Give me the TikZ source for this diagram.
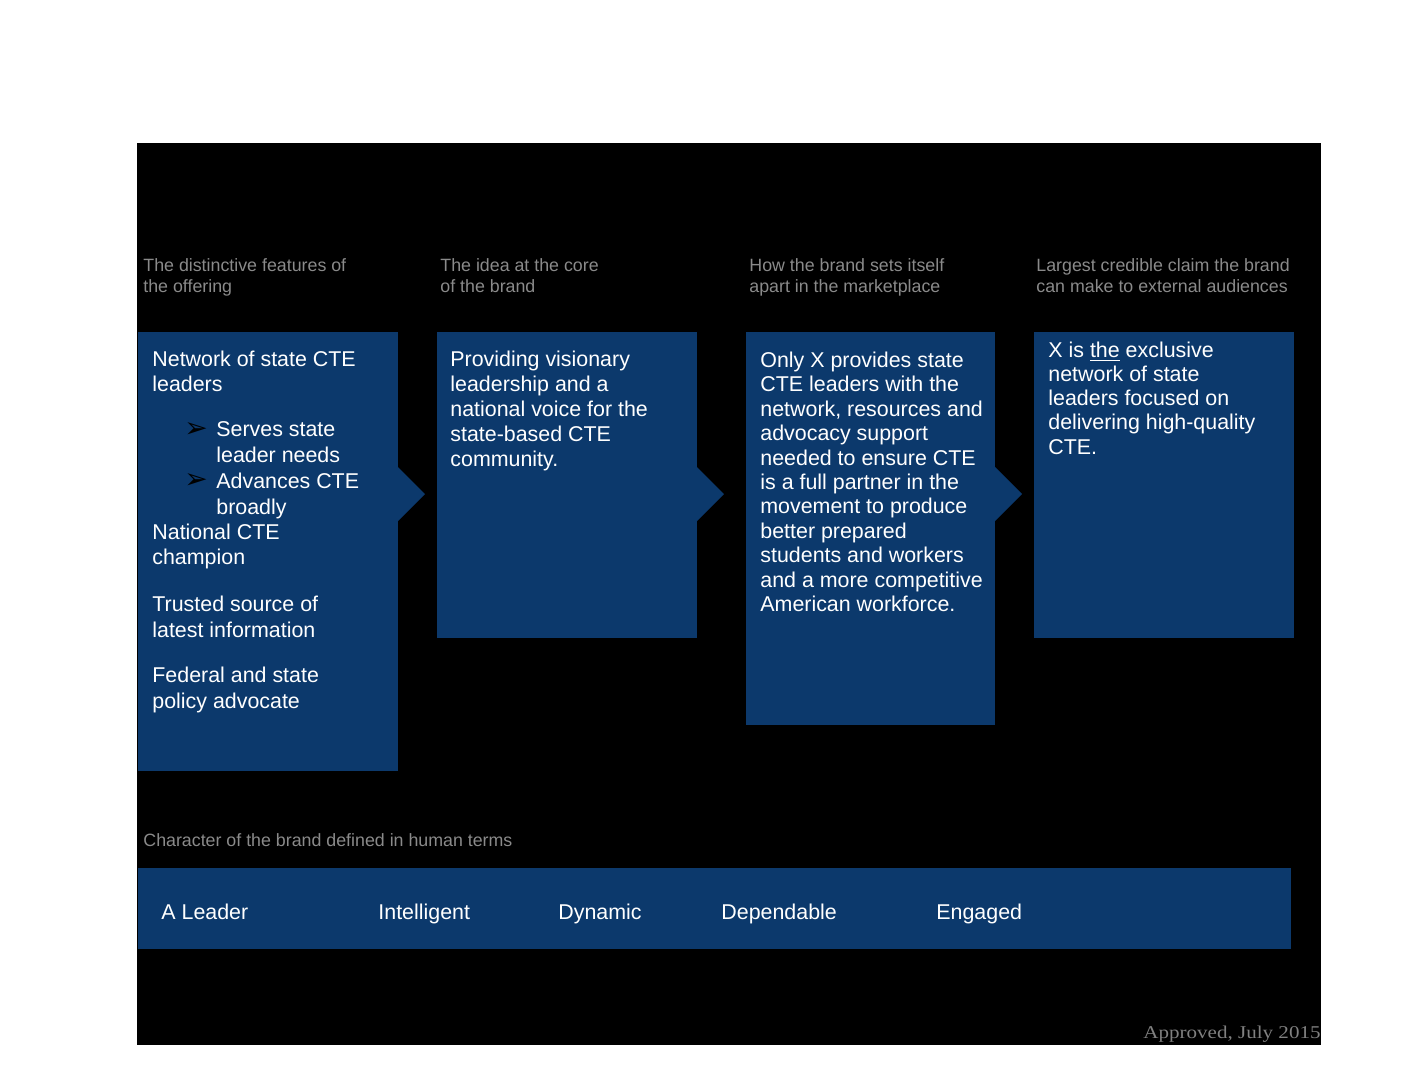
\documentclass[tikz,border=0pt]{standalone}
\usepackage{fontspec}
\setmainfont{Liberation Sans}
\newfontfamily\stampfont{Liberation Serif}
\newfontfamily\dingfont{DejaVu Sans}
\definecolor{brandblue}{RGB}{12,57,108}
\definecolor{captiongray}{RGB}{138,138,138}
\definecolor{stampgray}{RGB}{128,128,128}

\begin{document}
\begin{tikzpicture}[x=0.5pt, y=-0.5pt,
  box/.style={fill=brandblue, anchor=north west, inner sep=0pt, outer sep=0pt},
  caption/.style={anchor=base west, inner sep=0pt, align=left, text=captiongray, font=\fontsize{8.9}{10.5}\selectfont},
  boxtext/.style={anchor=base west, inner sep=0pt, align=left, text=white, font=\fontsize{10.7}{12.2}\selectfont},
  loosetext/.style={boxtext, font=\fontsize{10.7}{12.85}\selectfont},
  bullet/.style={anchor=base west, inner sep=0pt, text=black, font=\dingfont\fontsize{14}{14}\selectfont},
  trait/.style={anchor=base west, inner sep=0pt, text=white, font=\fontsize{10.7}{12.2}\selectfont}
]
\fill[white] (0,0) rectangle (1408,1088);
\useasboundingbox (0,0) rectangle (1408,1088);

% black slide area
\node[fill=black, anchor=north west, inner sep=0pt, minimum width=592pt, minimum height=451pt] (frame) at (137,143) {};

% headings over the four columns (multi-line nodes sit on their last baseline)
\node[caption] (capfeat) at (143,292.5) {The distinctive features of\\the offering};
\node[caption] (capidea) at (440,292.5) {The idea at the core\\of the brand};
\node[caption] (capapart) at (749,292.5) {How the brand sets itself\\apart in the marketplace};
\node[caption] (capclaim) at (1036,292.5) {Largest credible claim the brand\\can make to external audiences};

% the four boxes, each with a chevron into the next one
\node[box, minimum width=130pt, minimum height=219.25pt] (feat) at (138,332) {};
\node[box, minimum width=130pt, minimum height=153pt] (idea) at (437,332) {};
\node[box, minimum width=124.5pt, minimum height=196.5pt] (apart) at (746,332) {};
\node[box, minimum width=130pt, minimum height=153pt] (claim) at (1034,332) {};
\fill[brandblue] (feat.north east) ++(0,135) -- ++(27,27) -- ++(-27,27) -- cycle;
\fill[brandblue] (idea.north east) ++(0,135) -- ++(27,27) -- ++(-27,27) -- cycle;
\fill[brandblue] (apart.north east) ++(0,135) -- ++(27,27) -- ++(-27,27) -- cycle;

% first box
\node[loosetext] (network) at (152,391.7) {Network of state CTE\\leaders};
\node[bullet] (bulserve) at (184,437) {➢};
\node[loosetext] (serve) at (216,462.4) {Serves state\\leader needs};
\node[bullet] (buladvance) at (184,488.6) {➢};
\node[loosetext] (advance) at (216,514) {Advances CTE\\broadly};
\node[loosetext] (champion) at (152,564.7) {National CTE\\champion};
\node[loosetext] (source) at (152,637.4) {Trusted source of\\latest information};
\node[loosetext] (advocate) at (152,708.4) {Federal and state\\policy advocate};

% other boxes
\node[boxtext, font=\fontsize{10.7}{12.5}\selectfont] (ideatext) at (450,466.5) {Providing visionary\\leadership and a\\national voice for the\\state-based CTE\\community.};
\node[boxtext] (aparttext) at (760,611.5) {Only X provides state\\CTE leaders with the\\network, resources and\\advocacy support\\needed to ensure CTE\\is a full partner in the\\movement to produce\\better prepared\\students and workers\\and a more competitive\\American workforce.};
\node[boxtext, font=\fontsize{10.7}{12.1}\selectfont] (claimtext) at (1048,454) {X is \underline{the} exclusive\\network of state\\leaders focused on\\delivering high-quality\\CTE.};

% personality bar
\node[caption] (capchar) at (143,846.5) {Character of the brand defined in human terms};
\node[box, minimum width=576.5pt, minimum height=40.5pt] (bar) at (138,868) {};
\node[trait] (leader) at (161,919.5) {A Leader};
\node[trait] (intelligent) at (378,919.5) {Intelligent};
\node[trait] (dynamic) at (558,919.5) {Dynamic};
\node[trait] (dependable) at (721,919.5) {Dependable};
\node[trait] (engaged) at (936,919.5) {Engaged};

\node[anchor=base east, inner sep=0pt, text=stampgray, font=\stampfont\fontsize{9}{10}\selectfont] (stamp) at (1321,1038) {\scalebox{1.17}[1]{Approved, July 2015}};
\end{tikzpicture}
\end{document}
